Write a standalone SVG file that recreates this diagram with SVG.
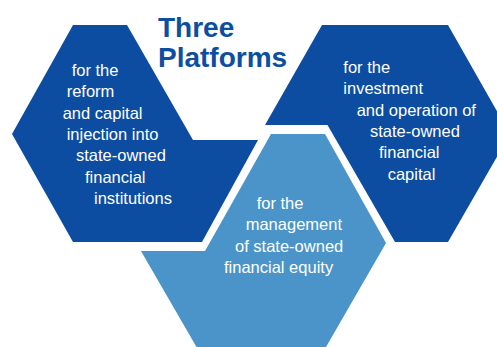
<svg xmlns="http://www.w3.org/2000/svg" width="497" height="347" viewBox="0 0 497 347">
<style>
.dark{fill:#0c4da2;}
.light{fill:#4a94c9;}
.lbl{font-family:"Liberation Sans",Arial,sans-serif;font-size:16.5px;fill:#ffffff;}
.title{font-family:"Liberation Sans",Arial,sans-serif;font-size:28px;font-weight:bold;fill:#0d4ea0;}
</style>
<rect width="497" height="347" fill="#ffffff"/>
<g id="connectors"/>
<g id="node-reform">
<polygon class="dark" points="73,25 127,25 193,140 258,140 202,242 73,242 12,134"/>
<text class="lbl" x="71.7" y="76">for the</text>
<text class="lbl" x="66.7" y="97.3">reform</text>
<text class="lbl" x="62.7" y="118.6">and capital</text>
<text class="lbl" x="66.7" y="139.9">injection into</text>
<text class="lbl" x="76" y="161.2">state-owned</text>
<text class="lbl" x="85" y="182.5">financial</text>
<text class="lbl" x="94" y="203.8">institutions</text>
</g>
<g id="node-investment">
<polygon class="dark" points="322,25 448,25 510,134 448,242 395,242 327.5,125 265,125"/>
<text class="lbl" x="343.3" y="73">for the</text>
<text class="lbl" x="343.3" y="94.3">investment</text>
<text class="lbl" x="356.7" y="115.6">and operation of</text>
<text class="lbl" x="370" y="136.9">state-owned</text>
<text class="lbl" x="379" y="158.2">financial</text>
<text class="lbl" x="387.7" y="179.5">capital</text>
</g>
<g id="node-management">
<polygon class="light" points="271,134 325,134 386,243 318.5,360 204,360 141,251 205,251"/>
<text class="lbl" x="256.7" y="209">for the</text>
<text class="lbl" x="245.7" y="230.3">management</text>
<text class="lbl" x="235" y="251.6">of state-owned</text>
<text class="lbl" x="224" y="272.9">financial equity</text>
</g>
<g id="title">
<text class="title" x="158" y="37">Three</text>
<text class="title" x="158" y="67">Platforms</text>
</g>
</svg>
